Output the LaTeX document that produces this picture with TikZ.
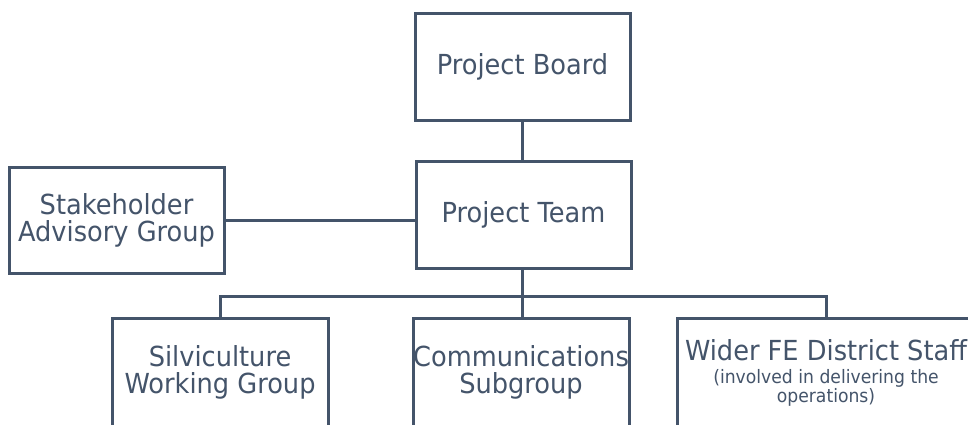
\documentclass[tikz,border=0pt]{standalone}
\usepackage{fontspec}
\setmainfont{DejaVu Sans}[FakeStretch=0.93]
\definecolor{slate}{HTML}{44546A}
\begin{document}
\begin{tikzpicture}[x=1pt,y=-1pt,
  box/.style={draw=slate,line width=3pt,rectangle,inner sep=0pt,
    text=slate,align=center,font=\fontsize{27.6}{27}\selectfont},
  conn/.style={draw=slate,line width=3pt}]
\useasboundingbox (0,0) rectangle (968,424);
\clip (0,0) rectangle (968,424);
\fill[white] (0,0) rectangle (968,424);
\node[box,minimum width=215pt,minimum height=107pt] (board) at (522.5,66.5) {Project Board};
\node[box,minimum width=215pt,minimum height=107pt] (team) at (523.5,214.5) {Project Team};
\node[box,minimum width=215pt,minimum height=106pt] (stake) at (116.5,220) {Stakeholder\\Advisory Group};
\node[box,minimum width=216pt,minimum height=108pt] (silv) at (220,372) {Silviculture\\Working Group};
\node[box,minimum width=216pt,minimum height=108pt] (comm) at (521,372) {Communications\\Subgroup};
\node[box,minimum width=298pt,minimum height=108pt] (wider) at (826,372.5)
  {Wider FE District Staff\\[-4pt]{\fontsize{18.5}{17}\selectfont (involved in delivering the}\\[-8pt]{\fontsize{18.5}{17}\selectfont operations)}};
\coordinate (bus) at (522,296);
\draw[conn] (board.south) -- (board.south |- team.north);
\draw[conn] (stake.east) -- (stake.east -| team.west);
\draw[conn] (team.south -| bus) -- (bus);
\draw[conn] (silv.north) |- (bus) -| (wider.north);
\draw[conn] (bus) -- (bus |- comm.north);
\end{tikzpicture}
\end{document}
